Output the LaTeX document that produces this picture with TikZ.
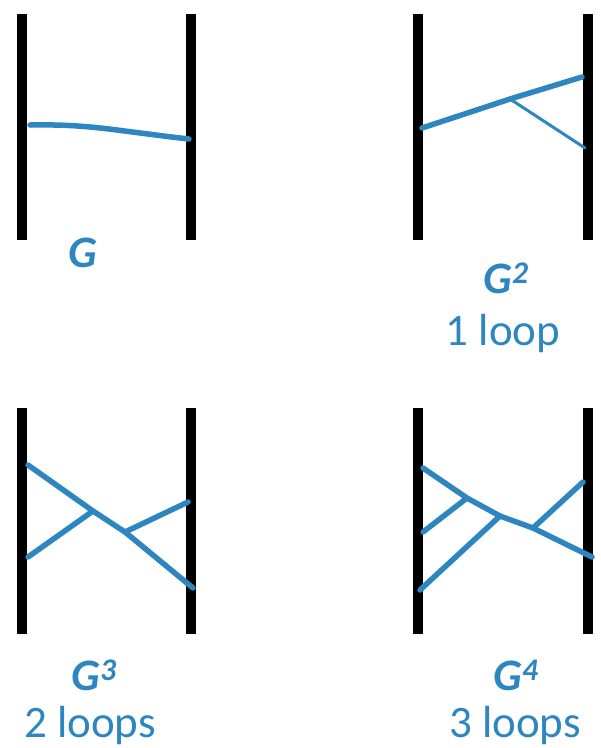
\documentclass[tikz,border=0pt]{standalone}
\usepackage{fontspec}
\setmainfont{Carlito}

\begin{document}
\begin{tikzpicture}[x=1pt, y=-1pt]
  \definecolor{wire}{RGB}{46,134,193}
  \tikzset{
    bar/.style={line width=10pt},
    leg/.style={wire, line width=5.5pt, line cap=round},
    thinleg/.style={wire, line width=3pt, line cap=round},
    lbl/.style={wire, anchor=base, font=\fontsize{45}{48}\selectfont},
  }
  \useasboundingbox (0,0) rectangle (601,748);

  % bars of the four panels
  \foreach \x/\y in {22/14, 191/14, 418/14, 588/14, 22/408, 191/408, 418/408, 588/408} {
    \draw[bar] (\x,\y) -- (\x,\y+226);
  }

  % G
  \coordinate (a1) at (30,125);
  \coordinate (b1) at (189,139);
  \draw[leg] (a1) .. controls (90,124) and (110,130) .. (b1);
  \node[lbl] (g1) at (83,267) {\textbf{\textit{G}}};

  % G^2
  \coordinate (a2) at (422,128);
  \coordinate (b2) at (582,77);
  \coordinate (j2) at (510,99);
  \coordinate (c2) at (585,148);
  \draw[leg] (a2) -- (j2) -- (b2);
  \draw[thinleg] (j2) -- (c2);
  \node[lbl] (g2) at (506,293) {\textbf{\textit{G\textsuperscript{2}}}};
  \node[lbl] (n2) at (503,345) {1 loop};

  % G^3
  \coordinate (a3) at (28,465);
  \coordinate (b3) at (193,588);
  \coordinate (ja) at (93,511);
  \coordinate (jb) at (125,532);
  \coordinate (c3) at (28,557);
  \coordinate (d3) at (188,502);
  \draw[leg] (a3) -- (ja) -- (jb) -- (b3);
  \draw[leg] (c3) -- (ja);
  \draw[leg] (jb) -- (d3);
  \node[lbl] (g3) at (94,690) {\textbf{\textit{G\textsuperscript{3}}}};
  \node[lbl] (n3) at (90,737) {2 loops};

  % G^4
  \coordinate (a4) at (423,468);
  \coordinate (b4) at (592,557);
  \coordinate (ka) at (467,498);
  \coordinate (kb) at (500,516);
  \coordinate (kc) at (533,528);
  \coordinate (c4) at (423,532);
  \coordinate (d4) at (420,590);
  \coordinate (e4) at (583,482);
  \draw[leg] (a4) -- (ka) -- (kb) -- (kc) -- (b4);
  \draw[leg] (ka) -- (c4);
  \draw[leg] (kb) -- (d4);
  \draw[leg] (kc) -- (e4);
  \node[lbl] (g4) at (516,690) {\textbf{\textit{G\textsuperscript{4}}}};
  \node[lbl] (n4) at (515,737) {3 loops};
\end{tikzpicture}
\end{document}
